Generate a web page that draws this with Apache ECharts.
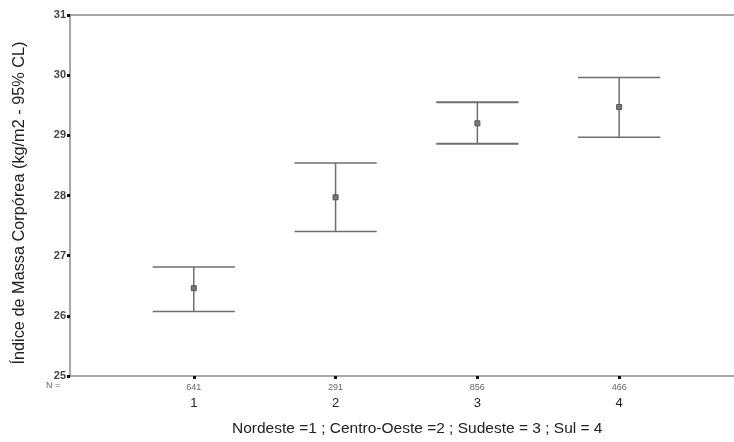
<!DOCTYPE html>
<html>
<head>
<meta charset="utf-8">
<script src="https://cdn.jsdelivr.net/npm/echarts@6/dist/echarts.min.js"></script>
<style>
  html, body { margin: 0; padding: 0; background: #fff; }
  #main { width: 734px; height: 442px; }
</style>
</head>
<body>
<div id="main"></div>
<script>
// regiao: Nordeste=1, Centro-Oeste=2, Sudeste=3, Sul=4
var regioes = [1, 2, 3, 4];
var nCasos = [641, 291, 856, 466];
var media = [26.46, 27.97, 29.20, 29.47];
var limInf = [26.07, 27.40, 28.86, 28.97];
var limSup = [26.81, 28.54, 29.55, 29.96];
var yTicks = [25, 26, 27, 28, 29, 30, 31];

var chart = echarts.init(document.getElementById('main'));

var dados = [];
for (var i = 0; i < regioes.length; i++) {
    dados.push([regioes[i], limInf[i], limSup[i], media[i]]);
}

var corLinha = '#6e6e6e';

function desenhaBarra(params, api) {
    var x = api.value(0);
    var baixo = api.coord([x, api.value(1)]);
    var alto = api.coord([x, api.value(2)]);
    var meio = api.coord([x, api.value(3)]);
    var meiaLarg = api.size([0.29, 0])[0];
    var grossa = params.dataIndex === 2 ? 2.2 : 1.5;
    return {
        type: 'group',
        children: [
            { type: 'line', shape: { x1: baixo[0], y1: baixo[1], x2: alto[0], y2: alto[1] },
              style: { stroke: corLinha, lineWidth: 1.5 } },
            { type: 'line', shape: { x1: alto[0] - meiaLarg, y1: alto[1], x2: alto[0] + meiaLarg, y2: alto[1] },
              style: { stroke: corLinha, lineWidth: grossa } },
            { type: 'line', shape: { x1: baixo[0] - meiaLarg, y1: baixo[1], x2: baixo[0] + meiaLarg, y2: baixo[1] },
              style: { stroke: corLinha, lineWidth: grossa } },
            { type: 'rect', shape: { x: meio[0] - 2.5, y: meio[1] - 2.5, width: 5, height: 5 },
              style: { fill: '#777', stroke: '#555', lineWidth: 1 } }
        ]
    };
}

var option = {
    animation: false,
    backgroundColor: '#fff',
    grid: { left: 70, right: 0, top: 15, bottom: 66 },
    xAxis: [
        {
            type: 'value',
            min: 0.127,
            max: 4.81,
            splitLine: { show: false },
            axisLine: { lineStyle: { color: '#8a8a8a', width: 1.5 } },
            axisTick: { show: true, customValues: regioes, inside: false, length: 3,
                        lineStyle: { color: '#111', width: 3 } },
            axisLabel: {
                customValues: regioes,
                margin: 5,
                formatter: function (v) {
                    var k = regioes.indexOf(v);
                    return '{n|' + nCasos[k] + '}\n{r|' + v + '}';
                },
                rich: {
                    n: { fontFamily: 'Liberation Sans Narrow, Liberation Sans', fontSize: 9, color: '#666', lineHeight: 13 },
                    r: { fontFamily: 'Liberation Sans', fontSize: 13, color: '#222', lineHeight: 18 }
                }
            }
        },
        {
            type: 'value',
            position: 'top',
            min: 0.127,
            max: 4.81,
            axisLine: { show: true, lineStyle: { color: '#8a8a8a', width: 1.5 } },
            axisTick: { show: false },
            axisLabel: { show: false },
            splitLine: { show: false }
        }
    ],
    yAxis: {
        type: 'value',
        min: 25,
        max: 31,
        interval: 1,
        splitLine: { show: false },
        axisLine: { show: true, lineStyle: { color: '#8a8a8a', width: 1.5 } },
        axisTick: { show: true, length: 3, lineStyle: { color: '#111', width: 3 } },
        axisLabel: {
            margin: 4,
            fontFamily: 'Liberation Sans',
            fontSize: 11,
            fontWeight: 'bold',
            color: '#444',
            formatter: function (v) { return yTicks.indexOf(v) >= 0 ? String(v) : ''; }
        }
    },
    graphic: [
        { type: 'text', x: 20, y: 203, rotation: Math.PI / 2,
          style: { text: 'Índice de Massa Corpórea (kg/m2 - 95% CL)', fontFamily: 'Liberation Sans',
                   fontSize: 16.3, fill: '#222', align: 'center', verticalAlign: 'middle' } },
        { type: 'text', left: 46, top: 381,
          style: { text: 'N =', fontFamily: 'Liberation Sans Narrow, Liberation Sans', fontSize: 9, fill: '#666' } },
        { type: 'text', left: 232, top: 421,
          style: { text: 'Nordeste =1 ; Centro-Oeste =2 ; Sudeste = 3 ; Sul = 4',
                   fontFamily: 'Liberation Sans', fontSize: 15.5, fill: '#222' } }
    ],
    series: [
        {
            type: 'custom',
            renderItem: desenhaBarra,
            encode: { x: 0, y: [1, 2, 3] },
            data: dados
        }
    ]
};

chart.setOption(option);
</script>
</body>
</html>
